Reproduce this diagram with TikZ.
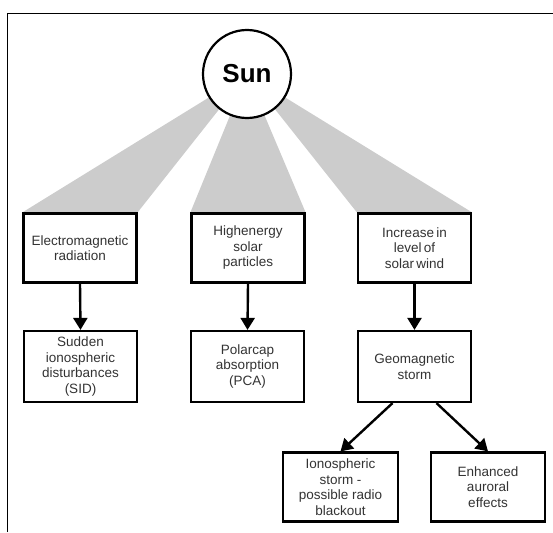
\documentclass[tikz,border=0pt]{standalone}
\usepackage{fontspec}
\setsansfont{Liberation Sans}
\usetikzlibrary{arrows.meta,backgrounds}
\tikzset{>={Triangle[width=14pt,length=12pt]}}
\tikzset{
  effect/.style={draw, line width=2.2pt, fill=white, minimum width=113pt,
    minimum height=69pt, align=center, text=black!80,
    font=\sffamily\fontsize{13.5}{15.5}\selectfont},
  beam/.style={fill=black!20},
  cause/.style={->, line width=2.4pt}
}

\begin{document}
\begin{tikzpicture}[x=1pt,y=-1pt]
  \useasboundingbox (0,0) rectangle (553,532);

  %% sun
  \node[draw, circle, line width=2.2pt, fill=white, minimum size=88pt,
    font=\sffamily\bfseries\fontsize{26}{30}\selectfont] (sun) at (247,74) {Sun};

  %% first row
  \node[effect] (em)  at (80,248)    {Electromagnetic\\radiation};
  \node[effect] (hep) at (248,248)   {Highenergy\\solar\\particles};
  \node[effect] (inc) at (414.5,248) {Increase\,in\\level\,of\\solar\,wind};

  %% second row
  \node[effect, minimum height=71pt] (sid) at (80.5,366.5)  {Sudden\\ionospheric\\disturbances\\(SID)};
  \node[effect, minimum height=71pt] (pca) at (247.5,366.5) {Polarcap\\absorption\\(PCA)};
  \node[effect, minimum height=71pt] (geo) at (414.5,366.5) {Geomagnetic\\storm};

  %% third row
  \node[effect, minimum width=115pt] (ion) at (340.5,487) {Ionospheric\\storm -\\possible radio\\blackout};
  \node[effect, minimum width=114pt] (aur) at (488,487)   {Enhanced\\auroral\\effects};

  %% frame and beams
  \begin{scope}[on background layer]
    \draw[line width=1.3pt] (7.3,532) -- (7.3,13.3) -- (553,13.3);
    \fill[beam] (sun.center) -- (em.north west) -- (em.north east) -- cycle;
    \fill[beam] (sun.center) -- (hep.north west) -- (hep.north east) -- cycle;
    \fill[beam] (sun.center) -- (inc.north west) -- (inc.north east) -- cycle;
  \end{scope}

  %% effects
  \draw[cause] (em.south) -- (sid.north);
  \draw[cause] (hep.south) -- (pca.north);
  \draw[cause] (inc.south) -- (geo.north);
  \draw[cause] ([xshift=-22pt]geo.south) -- (ion.north);
  \draw[cause] ([xshift=22pt]geo.south) -- (aur.north);

\end{tikzpicture}
\end{document}
